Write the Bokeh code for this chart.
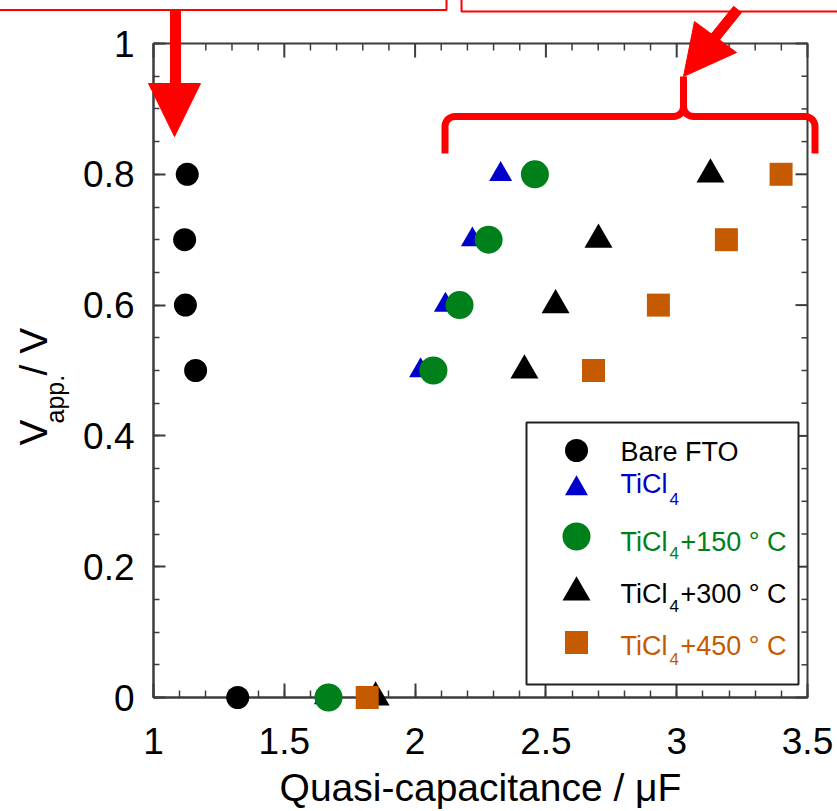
import numpy as np
from bokeh.plotting import figure
from bokeh.models import (SingleIntervalTicker, NumeralTickFormatter, Range1d,
                          BoxAnnotation, Label)
from bokeh.core.properties import value
from bokeh.embed import file_html
from bokeh.resources import INLINE

# ---------------- data ----------------
v_app = [0.8, 0.7, 0.6, 0.5, 0.0]                      # V_app. / V
bare_fto = [1.129, 1.119, 1.122, 1.161, 1.322]         # Quasi-capacitance / uF
ticl4 = [2.327, 2.219, 2.116, 2.021, 1.657]
ticl4_150 = [2.458, 2.281, 2.170, 2.070, 1.669]
ticl4_300 = [3.129, 2.701, 2.537, 2.418, 1.849]
ticl4_450 = [3.399, 3.190, 2.930, 2.682, 1.817]

series_main = ["Bare FTO", "TiCl", "TiCl", "TiCl", "TiCl"]
series_sub = ["", "4", "4", "4", "4"]
series_rest = ["", "", "+150 ° C", "+300 ° C", "+450 ° C"]
series_values = [bare_fto, ticl4, ticl4_150, ticl4_300, ticl4_450]
series_colors = ["#000000", "#0000CC", "#00801A", "#000000", "#C65A00"]
series_markers = ["circle", "triangle", "circle", "triangle", "square"]
series_sizes = [23, 23, 28, 28, 23]

x_ticks_interval = 0.5
y_ticks_interval = 0.2
x_label = "Quasi-capacitance / μF"
y_label_parts = ["V", "app.", " / V"]

# ---------------- layout ----------------
W, H = 837, 811
FL, FR, FT, FB = 153, 807, 43, 697
XMIN, XMAX, YMIN, YMAX = 1.0, 3.5, 0.0, 1.0
FONT = "Liberation Sans"


def X(px):
    return XMIN + (px - FL) * (XMAX - XMIN) / (FR - FL)


def Y(py):
    return YMIN + (FB - py) * (YMAX - YMIN) / (FB - FT)


p = figure(width=W, height=H, x_range=Range1d(XMIN, XMAX), y_range=Range1d(YMIN, YMAX),
           output_backend="svg", toolbar_location=None,
           min_border_left=FL, min_border_right=W - FR, min_border_top=FT,
           min_border_bottom=H - FB)
p.grid.visible = False
AX_COL = "#3c3c3c"
p.outline_line_color = AX_COL
p.outline_line_width = 2
p.outline_line_alpha = 1.0
p.background_fill_color = "white"
p.border_fill_color = "white"

XT_IN, XT_MIN_IN, YT_IN, YT_MIN_IN = 14, 7, 12, 6
xax = p.xaxis[0]
yax = p.yaxis[0]
xax.ticker = SingleIntervalTicker(interval=x_ticks_interval, num_minor_ticks=5)
xax.major_tick_in = XT_IN
xax.minor_tick_in = XT_MIN_IN
yax.ticker = SingleIntervalTicker(interval=y_ticks_interval, num_minor_ticks=4)
yax.major_tick_in = YT_IN
yax.minor_tick_in = YT_MIN_IN
for ax in (xax, yax):
    ax.major_tick_out = 0
    ax.minor_tick_out = 0
    ax.axis_line_color = AX_COL
    ax.axis_line_width = 2
    ax.major_tick_line_color = AX_COL
    ax.major_tick_line_width = 2
    ax.minor_tick_line_color = AX_COL
    ax.minor_tick_line_width = 1.5
    ax.formatter = NumeralTickFormatter(format="0.[0]")
    ax.major_label_text_font = FONT
    ax.major_label_text_font_size = "37px"
    ax.major_label_text_color = "black"

xax.major_label_standoff = 30
yax.major_label_standoff = 19

# mirrored ticks on the top and right edges (same tick positions as the axes)
x_major = np.arange(XMIN, XMAX + 1e-9, x_ticks_interval)
x_all = np.arange(XMIN, XMAX + 1e-9, x_ticks_interval / 5)
x_minor = np.array([t for t in x_all if np.min(np.abs(x_major - t)) > 1e-6])
y_major = np.arange(YMIN, YMAX + 1e-9, y_ticks_interval)
y_all = np.arange(YMIN, YMAX + 1e-9, y_ticks_interval / 4)
y_minor = np.array([t for t in y_all if np.min(np.abs(y_major - t)) > 1e-6])

for xt, ln, lw in ((x_major, XT_IN, 2), (x_minor, XT_MIN_IN, 1.5)):
    p.segment(x0=xt, y0=np.full(len(xt), YMAX), x1=xt, y1=np.full(len(xt), Y(FT + ln)),
              line_color=AX_COL, line_width=lw, level="guide")
for yt, ln, lw in ((y_major, YT_IN, 2), (y_minor, YT_MIN_IN, 1.5)):
    p.segment(x0=np.full(len(yt), XMAX), y0=yt, x1=np.full(len(yt), X(FR - ln)), y1=yt,
              line_color=AX_COL, line_width=lw, level="guide")

# ---------------- data marks ----------------
for vals, col, mk, sz in zip(series_values, series_colors, series_markers, series_sizes):
    p.scatter(x=vals, y=v_app, marker=mk, size=sz, fill_color=col, line_color=None,
              level="overlay")

# ---------------- axis titles ----------------
p.text(x=[X((FL + FR) / 2)], y=[Y(787)], text=[x_label], text_font=value(FONT),
       text_font_size=value("39px"), text_color="black", text_baseline="alphabetic",
       text_align="center", level="overlay")

for txt, px, py, fs in [(y_label_parts[0], 33, 445, "39px"),
                        (y_label_parts[1], 54, 423, "25px"),
                        (y_label_parts[2], 33, 375, "39px")]:
    p.text(x=[X(px)], y=[Y(py)], text=[txt], angle=np.pi / 2, text_font=value(FONT),
           text_font_size=value(fs), text_color="black", text_baseline="alphabetic",
           text_align="left", level="overlay")

# ---------------- legend ----------------
p.add_layout(BoxAnnotation(left=X(526), right=X(798), top=Y(422), bottom=Y(684),
                           fill_color="white", fill_alpha=1.0, line_color="#222222",
                           line_alpha=1.0, line_width=2, level="annotation"))
key_px = 576
key_py = [450, 488, 536, 592, 642]
text_base = [451, 483, 541, 593, 645]
sub_drop = [0, 15, 11, 12, 13]
for i in range(len(series_main)):
    p.scatter(x=[X(key_px)], y=[Y(key_py[i])], marker=series_markers[i], size=series_sizes[i],
              fill_color=series_colors[i], line_color=None, level="overlay")
    p.add_layout(Label(x=X(620), y=Y(text_base[i]), text=series_main[i], text_font=FONT,
                       text_font_size="27px", text_color=series_colors[i],
                       text_baseline="alphabetic"))
    if series_sub[i]:
        p.add_layout(Label(x=X(669), y=Y(text_base[i] + sub_drop[i]), text=series_sub[i],
                           text_font=FONT, text_font_size="17px", text_color=series_colors[i],
                           text_baseline="alphabetic"))
    if series_rest[i]:
        p.add_layout(Label(x=X(680), y=Y(text_base[i]), text=series_rest[i], text_font=FONT,
                           text_font_size="27px", text_color=series_colors[i],
                           text_baseline="alphabetic"))

# ---------------- red decorations (overlay glyphs, not clipped) ----------------
RED = "#FF0000"


def box_outline(l, t, r, b):
    pts = [(l, t), (l, b), (r, b), (r, t)]
    p.line(x=[X(a) for a, _ in pts], y=[Y(c) for _, c in pts], line_color=RED, line_width=2,
           level="overlay")


box_outline(-20, -20, 446, 9.5)
box_outline(461, -20, 860, 11)


def poly(pts):
    p.patch(x=[X(a) for a, _ in pts], y=[Y(c) for _, c in pts], fill_color=RED,
            line_color=RED, line_width=1, level="overlay")


# arrow 1 (vertical)
poly([(170, 9), (180, 9), (180, 86), (170, 86)])
poly([(148, 83), (200, 83), (174, 136)])
# arrow 2 (diagonal)
s0 = np.array([737.0, 9.0])
s1 = np.array([712.0, 40.0])
d = (s1 - s0) / np.linalg.norm(s1 - s0)
nrm = np.array([-d[1], d[0]]) * 5
poly([tuple(s0 + nrm), tuple(s1 + nrm), tuple(s1 - nrm), tuple(s0 - nrm)])
poly([(694, 21), (736, 52), (683, 76)])


def arc(cx, cy, r, a0, a1, k=10):
    t = np.radians(np.linspace(a0, a1, k))
    return list(zip(cx + r * np.cos(t), cy + r * np.sin(t)))


left_br = [(444.5, 153)] + arc(454.5, 126, 10, 180, 270) + arc(673, 106, 10, 90, 0) + [(683, 76)]
right_br = arc(693, 106, 10, 180, 90) + arc(804.5, 126, 10, 270, 360) + [(814.5, 153)]
p.multi_line(xs=[[X(a) for a, _ in left_br], [X(a) for a, _ in right_br]],
             ys=[[Y(c) for _, c in left_br], [Y(c) for _, c in right_br]],
             line_color=RED, line_width=7, line_join="round", level="overlay")

open("out.html", "w").write(file_html(p, INLINE))
